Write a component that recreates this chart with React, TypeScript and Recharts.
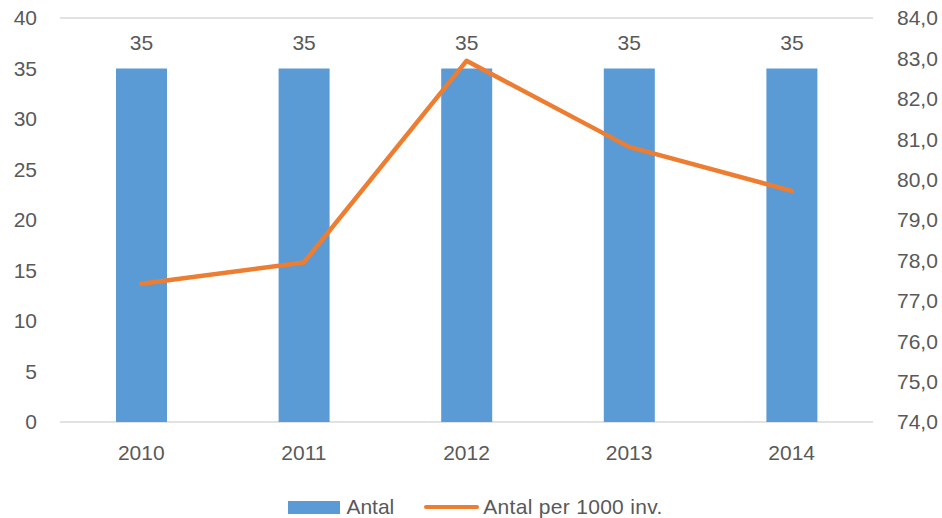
import React from 'react';
import { ComposedChart, Bar, Line, XAxis, YAxis, CartesianGrid, Legend, LabelList } from 'recharts';

const years = ['2010', '2011', '2012', '2013', '2014'];
const antal = [35, 35, 35, 35, 35];
const perThousand = [77.42, 77.95, 82.94, 80.81, 79.72];
const leftTicks = [0, 5, 10, 15, 20, 25, 30, 35, 40];
const rightTicks = [74, 75, 76, 77, 78, 79, 80, 81, 82, 83, 84];

const data = years.map((y, i) => ({ year: y, antal: antal[i], per: perThousand[i] }));

const FONT = '"Liberation Sans", Arial, sans-serif';
const TEXT = '#595959';
const BLUE = '#5B9BD5';
const ORANGE = '#ED7D31';

const renderLegend = () => (
  <div
    style={{
      display: 'flex',
      justifyContent: 'center',
      alignItems: 'center',
      height: 40,
      paddingTop: 18,
      paddingLeft: 9,
      boxSizing: 'border-box',
      fontFamily: FONT,
      fontSize: 21,
      color: TEXT,
    }}
  >
    <span style={{ display: 'inline-block', width: 52, height: 13, background: BLUE, marginRight: 6 }} />
    <span style={{ marginRight: 30 }}>Antal</span>
    <span style={{ display: 'inline-block', width: 55, height: 4, borderRadius: 2, background: ORANGE, marginRight: 4 }} />
    <span style={{ letterSpacing: 0.3 }}>Antal per 1000 inv.</span>
  </div>
);

export default function App() {
  return (
    <div style={{ position: 'absolute', left: 0, top: 0, background: '#fff' }}>
      <ComposedChart
        width={942}
        height={518}
        data={data}
        margin={{ top: 18, right: 0, bottom: 0, left: 0 }}
        style={{ fontFamily: FONT }}
      >
        <CartesianGrid vertical={false} stroke="#d9d9d9" strokeWidth={1.5} />
        <XAxis
          dataKey="year"
          axisLine={false}
          tickLine={false}
          height={56}
          tickMargin={17}
          tick={{ fill: TEXT, fontSize: 21, fontFamily: FONT }}
        />
        <YAxis
          yAxisId="left"
          domain={[0, 40]}
          ticks={leftTicks}
          width={60}
          axisLine={false}
          tickLine={false}
          tickMargin={17}
          tick={{ fill: TEXT, fontSize: 21, fontFamily: FONT }}
        />
        <YAxis
          yAxisId="right"
          orientation="right"
          domain={[74, 84]}
          ticks={rightTicks}
          width={69}
          axisLine={false}
          tickLine={false}
          tickMargin={18}
          tickFormatter={(v: number) => v.toFixed(1).replace('.', ',')}
          tick={{ fill: TEXT, fontSize: 21, fontFamily: FONT, textAnchor: 'start' }}
        />
        <Legend verticalAlign="bottom" height={40} content={renderLegend} wrapperStyle={{ left: 0, width: 942 }} />
        <Bar yAxisId="left" dataKey="antal" name="Antal" fill={BLUE} barSize={51} isAnimationActive={false}>
          <LabelList dataKey="antal" position="top" offset={19} fill={TEXT} fontSize={21} fontFamily={FONT} />
        </Bar>
        <Line
          yAxisId="right"
          type="linear"
          dataKey="per"
          name="Antal per 1000 inv."
          stroke={ORANGE}
          strokeWidth={4.5}
          strokeLinecap="round"
          strokeLinejoin="round"
          dot={false}
          activeDot={false}
          isAnimationActive={false}
        />
      </ComposedChart>
    </div>
  );
}
